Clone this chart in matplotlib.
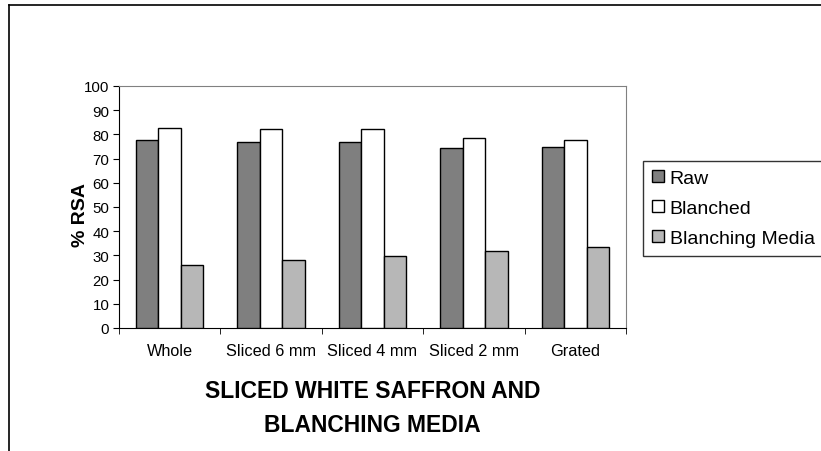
import matplotlib
matplotlib.use("Agg")
import matplotlib.pyplot as plt
import numpy as np

plt.rcParams["font.family"] = ["Liberation Sans", "DejaVu Sans"]

categories = ["Whole", "Sliced 6 mm", "Sliced 4 mm", "Sliced 2 mm", "Grated"]
raw = [77.5, 76.7, 76.7, 74.2, 74.8]
blanched = [82.6, 82.1, 82.1, 78.5, 77.8]
media = [26.0, 28.0, 29.8, 31.7, 33.3]

series = [
    ("Raw", raw, "#7f7f7f"),
    ("Blanched", blanched, "#ffffff"),
    ("Blanching Media", media, "#b7b7b7"),
]

fig = plt.figure(figsize=(8.21, 4.52), dpi=100)
ax = fig.add_axes([119 / 821, 1 - 329 / 452, 507 / 821, 242 / 452])

# frame line around the chart area
fig.add_artist(plt.Line2D([9 / 821, 9 / 821], [0, 1 - 6 / 452], color="black", lw=1.2))
fig.add_artist(plt.Line2D([9 / 821, 1], [1 - 6 / 452, 1 - 6 / 452], color="black", lw=1.2))

x = np.arange(len(categories))
width = 0.222
for i, (name, vals, color) in enumerate(series):
    ax.bar(x + (i - 1) * width, vals, width, color=color, edgecolor="black",
           linewidth=1.0, label=name, zorder=3)

ax.set_xlim(-0.5, len(categories) - 0.5)
ax.set_ylim(0, 100)
ax.set_yticks(range(0, 101, 10))
ax.tick_params(axis="y", direction="out", length=4, labelsize=10.8, pad=3)

ax.set_xticks(x)
ax.set_xticklabels(categories, fontsize=11.7)
ax.tick_params(axis="x", length=0, pad=11)
ax.set_xticks(np.arange(-0.5, len(categories), 1.0), minor=True)
ax.tick_params(axis="x", which="minor", direction="out", length=4)

for side in ("top", "right"):
    ax.spines[side].set_color("#808080")
for side in ("left", "bottom"):
    ax.spines[side].set_color("black")

ax.set_ylabel("% RSA", fontsize=14, fontweight="bold")
ax.yaxis.set_label_coords(-0.059, 0.47)
ax.set_xlabel("SLICED WHITE SAFFRON AND\nBLANCHING MEDIA", fontsize=16.5,
              fontweight="bold", linespacing=1.6, va="top")
ax.xaxis.set_label_coords(0.5, -0.21)

leg = ax.legend(loc="upper left", bbox_to_anchor=(643 / 821, 1 - 162 / 452),
                bbox_transform=fig.transFigure, fontsize=14, frameon=True,
                fancybox=False, edgecolor="black", handlelength=0.62,
                handleheight=0.62, handletextpad=0.3, labelspacing=0.66,
                borderpad=0.45, borderaxespad=0)
leg.get_frame().set_linewidth(1.0)

fig.savefig("out.png", dpi=100)
